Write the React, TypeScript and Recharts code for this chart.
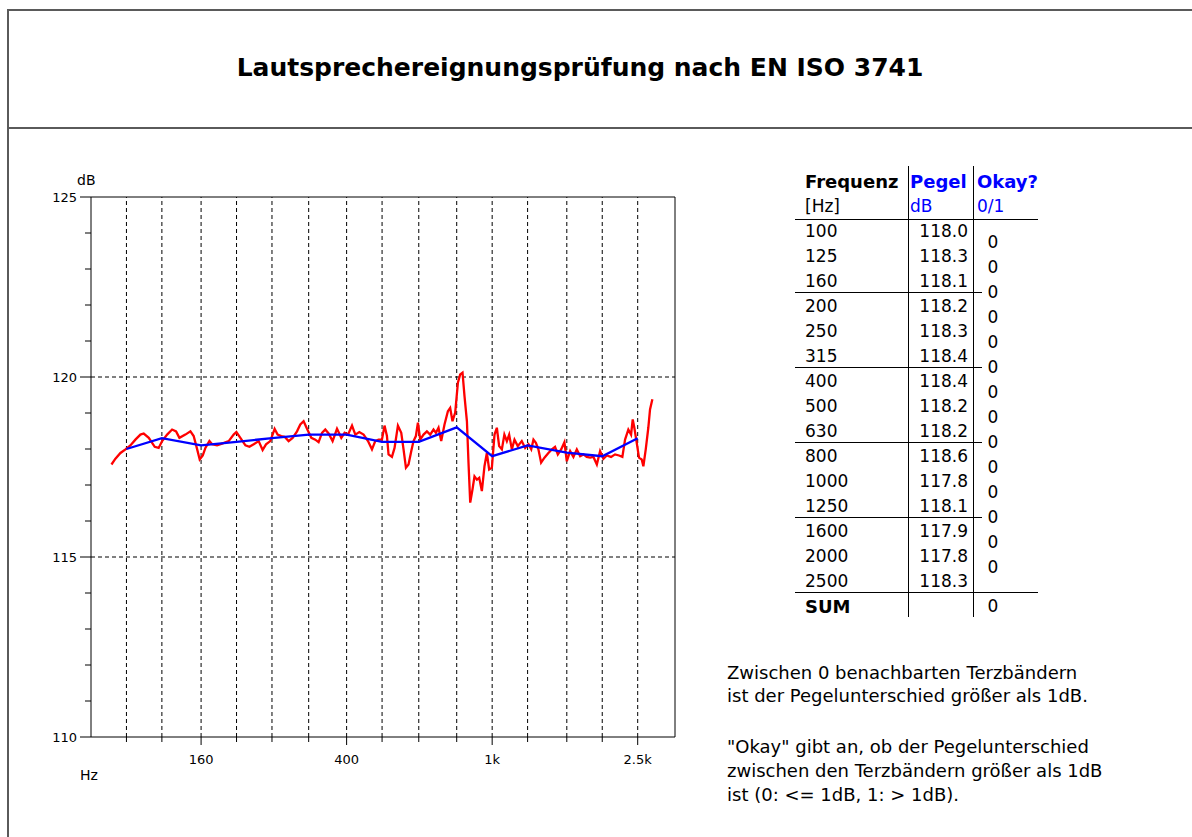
import React from 'react';
import { LineChart, Line, XAxis, YAxis, ReferenceLine } from 'recharts';

const FONT = '"DejaVu Sans", Verdana, sans-serif';
const TITLE = 'Lautsprechereignungsprüfung nach EN ISO 3741';

// Third-octave bands and band levels (blue line / table)
const bandFreqs = [100, 125, 160, 200, 250, 315, 400, 500, 630, 800, 1000, 1250, 1600, 2000, 2500];
const bandLabels = ['100', '125', '160', '200', '250', '315', '400', '500', '630', '800', '1000', '1250', '1600', '2000', '2500'];
const bandLevels = [118.0, 118.3, 118.1, 118.2, 118.3, 118.4, 118.4, 118.2, 118.2, 118.6, 117.8, 118.1, 117.9, 117.8, 118.3];
const okayValues = [0, 0, 0, 0, 0, 0, 0, 0, 0, 0, 0, 0, 0, 0];
const sumValue = 0;

// Axis ticks
const xTickLabels: Record<number, string> = { 160: '160', 400: '400', 1000: '1k', 2500: '2.5k' };
const yTicks = [110, 111, 112, 113, 114, 115, 116, 117, 118, 119, 120, 121, 122, 123, 124, 125];
const yLabeled = [110, 115, 120, 125];
const yGrid = [115, 120];

// Fine-resolution spectrum (red line): [Hz, dB]
const spectrum: [number, number][] = [
  [91.0, 117.57], [93.3, 117.73], [96.3, 117.89], [99.4, 117.99], [102.5, 118.10], [105.8, 118.26],
  [109.2, 118.40], [111.5, 118.43], [115.1, 118.31], [119.5, 118.06], [122.5, 118.03], [125.2, 118.22],
  [129.2, 118.40], [133.3, 118.54], [136.7, 118.49], [139.6, 118.31], [144.9, 118.40], [149.6, 118.49],
  [152.7, 118.36], [156.1, 117.99], [158.6, 117.71], [161.7, 117.82], [164.4, 118.03], [168.6, 118.22],
  [171.5, 118.13], [176.9, 118.10], [182.6, 118.15], [190.4, 118.22], [196.4, 118.40], [199.8, 118.47],
  [204.9, 118.31], [211.5, 118.10], [216.9, 118.06],
  [222.8, 118.13], [229.9, 118.22], [235.7, 117.97], [240.8, 118.13], [247.4, 118.22], [254.2, 118.56],
  [259.0, 118.40], [265.1, 118.36], [270.7, 118.34], [277.6, 118.22], [284.7, 118.31], [292.7, 118.49],
  [298.8, 118.68], [305.1, 118.77], [311.7, 118.56], [320.3, 118.31], [328.4, 118.26], [335.3, 118.19],
  [342.6, 118.45], [349.7, 118.54], [357.1, 118.43], [366.2, 118.22], [376.5, 118.56], [386.8, 118.31],
  [394.9, 118.45], [403.5, 118.40], [413.8, 118.65], [422.5, 118.40], [433.2, 118.47], [445.1, 118.40],
  [457.6, 118.22], [469.2, 117.99], [479.0, 118.22], [489.0, 118.26], [499.6, 118.26], [507.8, 118.65],
  [515.6, 118.36], [520.8, 117.85], [532.1, 117.78], [540.9, 118.03], [552.5, 118.65], [564.2, 118.45],
  [572.4, 117.99], [581.1, 117.48], [590.6, 117.57], [600.8, 117.94], [609.5, 118.22], [618.7, 118.36],
  [626.6, 118.73], [635.8, 118.26], [649.1, 118.40], [663.1, 118.49], [677.0, 118.40], [691.2, 118.54],
  [701.8, 118.45], [713.4, 118.59], [725.6, 118.22], [740.8, 118.68], [756.8, 119.05], [767.7, 119.14],
  [779.0, 118.77], [792.4, 119.01], [806.0, 119.84], [817.8, 120.07], [829.8, 120.12], [840.2, 119.47],
  [853.1, 118.77], [861.6, 117.62], [871.0, 116.51], [883.7, 116.88], [894.8, 117.24], [908.5, 117.15],
  [921.8, 117.20], [937.2, 116.83], [952.8, 117.52], [967.2, 117.89], [981.3, 117.43], [998.2, 117.48],
  [1015, 118.40], [1030, 118.59], [1045, 118.08], [1063, 117.99], [1080, 118.40], [1097, 118.22],
  [1113, 118.40], [1132, 117.99], [1151, 118.26], [1175, 118.08], [1205, 118.22], [1231, 118.03],
  [1257, 118.13], [1279, 117.99], [1297, 118.26], [1317, 118.17], [1338, 117.99], [1361, 117.62],
  [1390, 117.76], [1425, 117.89], [1456, 117.99], [1486, 118.06], [1512, 117.85], [1544, 117.99],
  [1576, 118.19], [1600, 117.66], [1634, 117.94], [1668, 117.78], [1704, 117.99], [1740, 117.80],
  [1777, 117.85], [1814, 117.78], [1853, 117.76], [1892, 117.78], [1933, 117.57], [1973, 117.94],
  [2015, 117.73], [2058, 117.82], [2114, 117.78], [2168, 117.85], [2223, 117.82], [2270, 117.78],
  [2309, 118.26], [2357, 118.54], [2398, 118.40], [2423, 118.82], [2448, 118.59], [2485, 118.17],
  [2521, 117.76], [2564, 117.71], [2591, 117.52], [2630, 117.99], [2673, 118.59], [2702, 119.10],
  [2742, 119.38],
];

const noteLines = [
  'Zwischen 0 benachbarten Terzbändern',
  'ist der Pegelunterschied größer als 1dB.',
  '"Okay" gibt an, ob der Pegelunterschied',
  'zwischen den Terzbändern größer als 1dB',
  'ist (0: <= 1dB, 1: > 1dB).',
];
const noteTops = [661, 684, 735, 759, 783];

const spectrumData = spectrum.map(([f, v]) => ({ f, v }));
const bandData = bandFreqs.map((f, i) => ({ f, v: bandLevels[i] }));

const XTick = (props: any) => {
  const { x, y, payload } = props;
  const label = xTickLabels[payload.value];
  const major = label !== undefined;
  return (
    <g>
      <line x1={x} x2={x} y1={y} y2={y + (major ? 8 : 5)} stroke="#000" strokeWidth={1} />
      {major && (
        <text x={x} y={y + 27} textAnchor="middle" fontSize={13} fill="#000" fontFamily={FONT}>
          {label}
        </text>
      )}
    </g>
  );
};

const YTick = (props: any) => {
  const { x, y, payload } = props;
  const major = yLabeled.includes(payload.value);
  return (
    <g>
      <line x1={x} x2={x - (major ? 11 : 6)} y1={y} y2={y} stroke="#000" strokeWidth={1} />
      {major && (
        <text x={x - 14} y={y + 5} textAnchor="end" fontSize={13} fill="#000" fontFamily={FONT}>
          {payload.value}
        </text>
      )}
    </g>
  );
};

const abs = (s: React.CSSProperties): React.CSSProperties => ({ position: 'absolute', whiteSpace: 'nowrap', ...s });

export default function App() {
  const rowTop = (i: number) => 231 + 25 * i - 12.5;
  return (
    <div style={abs({ left: 0, top: 0, width: 1192, height: 837, overflow: 'hidden', background: '#fff', fontFamily: FONT, color: '#000' })}>
      {/* frame */}
      <div style={abs({ left: 8, top: 9, width: 1200, height: 116, borderTop: '2px solid #5a5a5a', borderBottom: '2px solid #5a5a5a' })} />
      <div style={abs({ left: 7, top: 9, width: 0, height: 840, borderLeft: '2px solid #5a5a5a' })} />
      <div style={abs({ left: 0, width: 1160, top: 50, height: 36, lineHeight: '36px', textAlign: 'center', fontSize: 25, fontWeight: 'bold' })}>
        {TITLE}
      </div>

      {/* chart */}
      <div style={abs({ left: 0, top: 0 })}>
        <LineChart width={700} height={800} margin={{ top: 197, right: 25, bottom: 23, left: 31 }}>
          <XAxis
            type="number"
            dataKey="f"
            scale="log"
            domain={[80, 3162]}
            allowDataOverflow
            ticks={bandFreqs}
            interval={0}
            tick={<XTick />}
            tickLine={false}
            tickSize={0}
            tickMargin={0}
            height={40}
            axisLine={{ stroke: '#000', strokeWidth: 1 }}
          />
          <YAxis
            type="number"
            domain={[110, 125]}
            allowDataOverflow
            ticks={yTicks}
            interval={0}
            tick={<YTick />}
            tickLine={false}
            tickSize={0}
            tickMargin={0}
            width={60}
            axisLine={{ stroke: '#000', strokeWidth: 1 }}
          />
          {bandFreqs.map((f) => (
            <ReferenceLine key={'vx' + f} x={f} stroke="#000" strokeDasharray="4 3" strokeWidth={1} ifOverflow="visible" />
          ))}
          {yGrid.map((v) => (
            <ReferenceLine key={'hy' + v} y={v} stroke="#000" strokeDasharray="4 3" strokeWidth={1} ifOverflow="visible" />
          ))}
          <ReferenceLine y={125} stroke="#000" strokeWidth={1} ifOverflow="visible" />
          <ReferenceLine x={3162} stroke="#000" strokeWidth={1} ifOverflow="visible" />
          <Line data={spectrumData} dataKey="v" stroke="#ff0000" strokeWidth={2.3} dot={false} isAnimationActive={false} type="linear" />
          <Line data={bandData} dataKey="v" stroke="#0000ff" strokeWidth={2.3} dot={false} isAnimationActive={false} type="linear" />
        </LineChart>
      </div>
      <div style={abs({ left: 77, top: 170, fontSize: 14, lineHeight: '20px' })}>dB</div>
      <div style={abs({ left: 80, top: 765, fontSize: 14, lineHeight: '20px' })}>Hz</div>

      {/* table */}
      <div style={abs({ left: 908, top: 166, width: 0, height: 451, borderLeft: '1px solid #000' })} />
      <div style={abs({ left: 973, top: 166, width: 0, height: 451, borderLeft: '1px solid #000' })} />
      <div style={abs({ left: 795, top: 219, width: 243, height: 0, borderTop: '1px solid #000' })} />
      <div style={abs({ left: 795, top: 592, width: 243, height: 0, borderTop: '1px solid #000' })} />
      {[0, 1, 2, 3].map((g) => (
        <div key={'gl' + g} style={abs({ left: 795, top: 292 + 75 * g, width: 187, height: 0, borderTop: '1px solid #000' })} />
      ))}
      <div style={abs({ left: 805, top: 170, fontSize: 18, fontWeight: 'bold', lineHeight: '24px' })}>Frequenz</div>
      <div style={abs({ left: 910, top: 170, fontSize: 18, fontWeight: 'bold', lineHeight: '24px', color: '#0000ff' })}>Pegel</div>
      <div style={abs({ left: 977, top: 170, fontSize: 18, fontWeight: 'bold', lineHeight: '24px', color: '#0000ff' })}>Okay?</div>
      <div style={abs({ left: 805, top: 194, fontSize: 17, lineHeight: '24px' })}>[Hz]</div>
      <div style={abs({ left: 910, top: 194, fontSize: 17, lineHeight: '24px', color: '#0000ff' })}>dB</div>
      <div style={abs({ left: 977, top: 194, fontSize: 17, lineHeight: '24px', color: '#0000ff' })}>0/1</div>
      {bandLabels.map((lbl, i) => (
        <div key={'fl' + i} style={abs({ left: 805, top: rowTop(i), fontSize: 17, lineHeight: '25px' })}>{lbl}</div>
      ))}
      {bandLevels.map((v, i) => (
        <div key={'lv' + i} style={abs({ left: 900, width: 68, textAlign: 'right', top: rowTop(i), fontSize: 17, lineHeight: '25px' })}>
          {v.toFixed(1)}
        </div>
      ))}
      {okayValues.map((v, i) => (
        <div key={'ok' + i} style={abs({ left: 983, width: 20, textAlign: 'center', top: 242 + 25 * i - 12.5, fontSize: 17, lineHeight: '25px' })}>
          {v}
        </div>
      ))}
      <div style={abs({ left: 805, top: 606 - 12.5, fontSize: 18, fontWeight: 'bold', lineHeight: '25px' })}>SUM</div>
      <div style={abs({ left: 983, width: 20, textAlign: 'center', top: 606 - 12.5, fontSize: 17, lineHeight: '25px' })}>{sumValue}</div>

      {/* notes */}
      {noteLines.map((t, i) => (
        <div key={'n' + i} style={abs({ left: 727, top: noteTops[i], fontSize: 18, lineHeight: '24px' })}>{t}</div>
      ))}
    </div>
  );
}
